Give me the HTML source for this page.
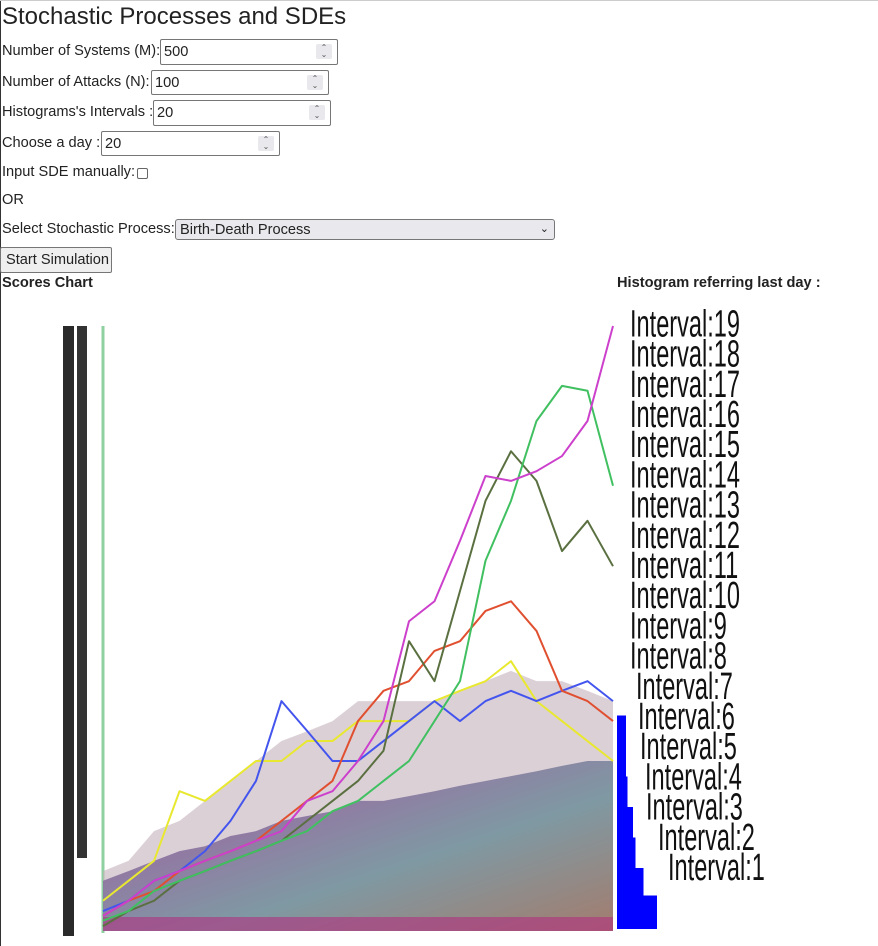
<!DOCTYPE html>
<html><head><meta charset="utf-8">
<style>
body{margin:0;width:878px;height:945px;overflow:hidden;background:#fff;font-family:"Liberation Sans",sans-serif;color:#222;position:relative;border-top:1px solid #ccc;box-sizing:border-box}
.a{position:absolute;white-space:nowrap}
.lbl{font-size:14.6px}
.inp{position:absolute;border:1px solid #767676;border-radius:2px;box-sizing:border-box;font-size:14.6px;padding:0 3px;background:#fff;white-space:nowrap;display:flex;align-items:center}
.spin{position:absolute;right:5px;top:4px;width:16px;height:15px;background:#e9e9ed;border-radius:2px;font-size:8px;line-height:7px;text-align:center;color:#555}
</style></head><body>
<div class="a" style="left:0;top:0;width:1px;height:945px;background:#333"></div>
<div class="a" style="left:2px;top:2px;font-size:24px">Stochastic Processes and SDEs</div>
<div class="a lbl" style="left:2px;top:42px">Number of Systems (M):</div>
<div class="inp" style="left:160px;top:38px;width:178px;height:26px">500<div class="spin">⌃<br>⌄</div></div>
<div class="a lbl" style="left:2px;top:73px">Number of Attacks (N):</div>
<div class="inp" style="left:151px;top:69px;width:178px;height:25px">100<div class="spin">⌃<br>⌄</div></div>
<div class="a lbl" style="left:2px;top:103px">Histograms's Intervals :</div>
<div class="inp" style="left:153px;top:99px;width:178px;height:26px">20<div class="spin">⌃<br>⌄</div></div>
<div class="a lbl" style="left:2px;top:134px">Choose a day :</div>
<div class="inp" style="left:101px;top:130px;width:179px;height:25px">20<div class="spin">⌃<br>⌄</div></div>
<div class="a lbl" style="left:2px;top:163px">Input SDE manually:</div>
<div class="a" style="left:137px;top:167px;width:9px;height:9px;border:1px solid #666;border-radius:2px"></div>
<div class="a lbl" style="left:2px;top:191px">OR</div>
<div class="a lbl" style="left:2px;top:220px">Select Stochastic Process:</div>
<div class="inp" style="left:175px;top:218px;width:380px;height:21px;padding:0 4px;background:#e9e9ed;border-radius:3px">Birth-Death Process<span style="position:absolute;right:5px;top:2px;font-size:11px">⌄</span></div>
<div class="inp" style="left:0;top:246px;width:112px;height:26px;background:#efefef;padding:0 5px">Start Simulation</div>
<div class="a lbl" style="left:2px;top:274px;font-weight:bold">Scores Chart</div>
<div class="a lbl" style="left:617px;top:274px;font-weight:bold">Histogram referring last day :</div>

<svg class="a" style="left:0;top:0" width="878" height="945" id="chart">
<rect x="63" y="325" width="11" height="610" fill="#2a2a2a"/>
<rect x="77" y="325" width="10" height="532" fill="#333"/>
<line x1="103" y1="325" x2="103" y2="932" stroke="#8fd0a0" stroke-width="3"/>
<g id="marks"></g>
</svg>
<script>
const days=[0,5,10,15,20,25,30,35,40,45,50,55,60,65,70,75,80,85,90,95,100];
const coreTop=[8.3,9.9,11.6,13.2,14,15.7,16.5,18.2,19,19.8,21.5,21.5,22.3,23.1,24,24.8,25.6,26.4,27.3,28.1,28.1];
const outerTop=[9.9,11.6,16.5,18.2,21.5,24.8,28.1,31.4,33,34.7,38,38,38,38,39.7,41.3,43,41.3,41.3,39.7,38];
const magenta=[2.5,5,8.3,9.9,11.6,13.2,14.9,16.5,21.5,23.1,28.1,34.7,51.2,54.5,64.5,75.2,74.4,76,78.5,84.3,100];
const green=[1.7,3.3,6.6,8.3,9.9,11.6,13.2,14.9,16.5,19.8,21.5,24.8,28.1,34.7,41.3,61.2,71.1,84.3,90.1,89.3,73.6];
const olive=[0.8,3.3,5,8.3,9.9,11.6,13.2,14.9,18.2,21.5,24.8,29.8,47.9,41.3,56.2,71.1,79.3,74.4,62.8,67.8,60.3];
const orange=[2.5,5,6.6,9.9,11.6,13.2,14.9,18.2,21.5,24.8,34.7,39.7,41.3,46.3,47.9,52.9,54.5,49.6,39.7,38,34.7];
const blue=[3.3,5,8.3,9.9,13.2,18.2,24.8,38,33.1,28.1,28.1,31.4,34.7,38,34.7,38,39.7,38,39.7,41.3,38];
const yellow=[5,8.3,11.6,23.1,21.5,24.8,28.1,28.1,31.4,31.4,34.7,34.7,34.7,38,39.7,41.3,44.6,38,34.7,31.4,28.1];
const histCounts=[80,53,37,32,21,18,18];
const histIntervals=["1","2","3","4","5","6","7","8","9","10","11","12","13","14","15","16","17","18","19"];
const X=d=>103+d*5.1, Y=v=>930-v*6.05;
const HX=c=>617+c*0.5;
const NS="http://www.w3.org/2000/svg";
const g=document.getElementById('marks');
function mk(t,a){const e=document.createElementNS(NS,t);for(const k in a)e.setAttribute(k,a[k]);g.appendChild(e);return e;}
function area(top,fill,op){let d="M"+X(0)+","+Y(0);days.forEach((dd,i)=>d+=" L"+X(dd)+","+Y(top[i]));d+=" L"+X(100)+","+Y(0)+"Z";return mk('path',{d:d,fill:fill,opacity:op});}
const defs=document.createElementNS(NS,'defs');defs.innerHTML='<linearGradient id="mix" x1="0" y1="0" x2="1" y2="1"><stop offset="0" stop-color="#7fb08a"/><stop offset="0.3" stop-color="#9070a0"/><stop offset="0.6" stop-color="#7a96a0"/><stop offset="1" stop-color="#a07868"/></linearGradient>';g.appendChild(defs);
const oa=area(outerTop,'#c4b0bc',0.6);


const ca=area(coreTop,'url(#mix)',0.95);


mk('rect',{x:103,y:916,width:510,height:14,fill:'#b03080',opacity:0.6});
function line(vals,col,name){let d="";days.forEach((dd,i)=>d+=(i?" L":"M")+X(dd)+","+Y(vals[i]));const p=mk('path',{d:d,fill:'none',stroke:col,'stroke-width':2,'stroke-linejoin':'round'});

}
line(yellow,'#e8e830','path-yellow');
line(blue,'#4455ee','path-blue');
line(orange,'#e05030','path-orange');
line(olive,'#5a7040','path-olive');
line(green,'#40c060','path-green');
line(magenta,'#cc40cc','path-magenta');
const bh=30.5;
histCounts.forEach((c,i)=>{const r=mk('rect',{x:617,y:928-(i+1)*bh+(i==0?-3:0),width:HX(c)-617,height:bh+(i==0?3:0),fill:'#0000ff'});

});
const lx=[668,658,646,645,640,638,636,630,630,630,630,630,630,630,630,630,630,630,630];
histIntervals.forEach((s,i)=>{const cy=866-i*30.2;const t=mk('text',{x:0,y:0,'font-size':38,'font-family':'Liberation Sans, sans-serif',fill:'#111',transform:`translate(${lx[i]},${cy+13}) scale(0.62,1)`});t.textContent='Interval:'+s;

});
</script>
</body></html>
